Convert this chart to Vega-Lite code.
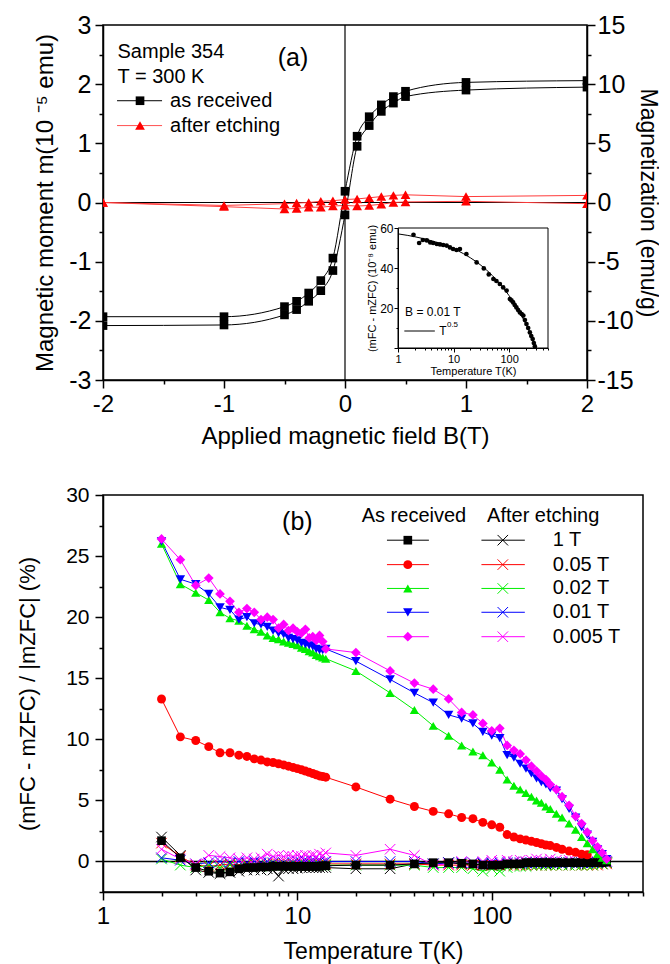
{
"$schema":"https://vega.github.io/schema/vega-lite/v6.json",
"padding":{"left":15,"top":12,"right":0,"bottom":0},
"spacing":34,
"config":{"font":"Liberation Sans","view":{"stroke":"black","strokeWidth":1.5},
 "axis":{"grid":false,"domainColor":"black","domainWidth":1.5,"tickColor":"black","tickWidth":1.5,"labelColor":"black","titleColor":"black","titleFontWeight":"normal","labelFont":"Liberation Sans","titleFont":"Liberation Sans","labelOverlap":false,"labelFlush":false}},
"datasets":{
"loop":[
{"g":"k","br":"d","B":2,"m":2.06},{"g":"k","br":"d","B":1,"m":2.03},{"g":"k","br":"d","B":0.5,"m":1.88},{"g":"k","br":"d","B":0.4,"m":1.79},{"g":"k","br":"d","B":0.3,"m":1.65},{"g":"k","br":"d","B":0.2,"m":1.45},{"g":"k","br":"d","B":0.1,"m":1.12},{"g":"k","br":"d","B":0,"m":0.19},{"g":"k","br":"d","B":-0.1,"m":-0.94},{"g":"k","br":"d","B":-0.2,"m":-1.32},{"g":"k","br":"d","B":-0.3,"m":-1.53},{"g":"k","br":"d","B":-0.4,"m":-1.67},{"g":"k","br":"d","B":-0.5,"m":-1.76},{"g":"k","br":"d","B":-1,"m":-1.93},{"g":"k","br":"d","B":-2,"m":-1.93},
{"g":"k","br":"u","B":-2,"m":-2.08},{"g":"k","br":"u","B":-1,"m":-2.07},{"g":"k","br":"u","B":-0.5,"m":-1.9},{"g":"k","br":"u","B":-0.4,"m":-1.81},{"g":"k","br":"u","B":-0.3,"m":-1.67},{"g":"k","br":"u","B":-0.2,"m":-1.49},{"g":"k","br":"u","B":-0.1,"m":-1.15},{"g":"k","br":"u","B":0,"m":-0.21},{"g":"k","br":"u","B":0.1,"m":0.95},{"g":"k","br":"u","B":0.2,"m":1.3},{"g":"k","br":"u","B":0.3,"m":1.54},{"g":"k","br":"u","B":0.4,"m":1.68},{"g":"k","br":"u","B":0.5,"m":1.79},{"g":"k","br":"u","B":1,"m":1.9},{"g":"k","br":"u","B":2,"m":1.95},
{"g":"r","br":"d","B":-2,"m":0.0},{"g":"r","br":"d","B":-1,"m":-0.05},{"g":"r","br":"d","B":-0.5,"m":-0.02},{"g":"r","br":"d","B":-0.4,"m":-0.01},{"g":"r","br":"d","B":-0.3,"m":0.0},{"g":"r","br":"d","B":-0.2,"m":0.02},{"g":"r","br":"d","B":-0.1,"m":0.03},{"g":"r","br":"d","B":0,"m":0.05},{"g":"r","br":"d","B":0.1,"m":0.06},{"g":"r","br":"d","B":0.2,"m":0.08},{"g":"r","br":"d","B":0.3,"m":0.1},{"g":"r","br":"d","B":0.4,"m":0.12},{"g":"r","br":"d","B":0.5,"m":0.13},{"g":"r","br":"d","B":1,"m":0.1},{"g":"r","br":"d","B":2,"m":0.12},
{"g":"r","br":"u","B":-2,"m":0.0},{"g":"r","br":"u","B":-1,"m":-0.07},{"g":"r","br":"u","B":-0.5,"m":-0.11},{"g":"r","br":"u","B":-0.4,"m":-0.1},{"g":"r","br":"u","B":-0.3,"m":-0.08},{"g":"r","br":"u","B":-0.2,"m":-0.08},{"g":"r","br":"u","B":-0.1,"m":-0.06},{"g":"r","br":"u","B":0,"m":-0.05},{"g":"r","br":"u","B":0.1,"m":-0.06},{"g":"r","br":"u","B":0.2,"m":-0.05},{"g":"r","br":"u","B":0.3,"m":-0.03},{"g":"r","br":"u","B":0.4,"m":0.0},{"g":"r","br":"u","B":0.5,"m":0.01},{"g":"r","br":"u","B":1,"m":0.02},{"g":"r","br":"u","B":2,"m":-0.02}
],
"inset":[
{"T":1.9,"v":56.6},{"T":2.4,"v":52.5},{"T":2.8,"v":54},{"T":3.3,"v":53.8},{"T":3.8,"v":52.8},{"T":4.3,"v":52.5},{"T":5,"v":52},{"T":5.7,"v":51.8},{"T":6.5,"v":51.5},{"T":7.5,"v":51.2},{"T":8.6,"v":50.3},{"T":9.8,"v":49.5},{"T":11.3,"v":49},{"T":13,"v":49.5},{"T":17,"v":47},{"T":26,"v":42.8},{"T":35,"v":39.8},{"T":43,"v":36.8},{"T":52,"v":34.5},{"T":59,"v":33.5},{"T":68,"v":32},{"T":78,"v":30.3},{"T":90,"v":28.7},{"T":103,"v":24.5},{"T":110,"v":23.8},{"T":118,"v":22.8},{"T":126,"v":21.5},{"T":135,"v":20.3},{"T":145,"v":19},{"T":156,"v":17.8},{"T":168,"v":17},{"T":180,"v":16.2},{"T":192,"v":14},{"T":205,"v":12},{"T":220,"v":10},{"T":236,"v":7.8},{"T":250,"v":6},{"T":265,"v":4.5},{"T":278,"v":2.5},{"T":290,"v":0.8}
],
"fit":[
{"T":1,"v":57.06},{"T":1.5,"v":56.29},{"T":2,"v":55.64},{"T":3,"v":54.55},{"T":5,"v":52.82},{"T":7,"v":51.41},{"T":10,"v":49.63},{"T":15,"v":47.19},{"T":20,"v":45.13},{"T":30,"v":41.68},{"T":50,"v":36.2},{"T":70,"v":31.75},{"T":100,"v":26.14},{"T":130,"v":21.32},{"T":160,"v":17.04},{"T":200,"v":11.91},{"T":240,"v":7.27},{"T":280,"v":3.0},{"T":310,"v":0}
],
"ar":[
{"s":"1 T","T":2,"v":1.7},{"s":"1 T","T":2.5,"v":0.3},{"s":"1 T","T":3,"v":-0.5},{"s":"1 T","T":3.5,"v":-0.8},{"s":"1 T","T":4,"v":-0.95},{"s":"1 T","T":4.5,"v":-0.85},{"s":"1 T","T":5,"v":-0.6},{"s":"1 T","T":5.5,"v":-0.5},{"s":"1 T","T":6,"v":-0.5},{"s":"1 T","T":6.5,"v":-0.45},{"s":"1 T","T":7,"v":-0.45},{"s":"1 T","T":7.5,"v":-0.4},{"s":"1 T","T":8,"v":-0.4},{"s":"1 T","T":8.5,"v":-0.4},{"s":"1 T","T":9,"v":-0.4},{"s":"1 T","T":9.5,"v":-0.4},{"s":"1 T","T":10,"v":-0.4},{"s":"1 T","T":10.5,"v":-0.4},{"s":"1 T","T":11,"v":-0.4},{"s":"1 T","T":11.5,"v":-0.4},{"s":"1 T","T":12,"v":-0.4},{"s":"1 T","T":12.5,"v":-0.4},{"s":"1 T","T":13,"v":-0.4},{"s":"1 T","T":13.5,"v":-0.35},{"s":"1 T","T":14,"v":-0.35},{"s":"1 T","T":20,"v":-0.3},{"s":"1 T","T":30,"v":-0.3},{"s":"1 T","T":40,"v":-0.2},{"s":"1 T","T":50,"v":-0.1},{"s":"1 T","T":60,"v":-0.1},{"s":"1 T","T":70,"v":-0.15},{"s":"1 T","T":80,"v":-0.2},{"s":"1 T","T":90,"v":-0.3},{"s":"1 T","T":100,"v":-0.3},{"s":"1 T","T":110,"v":-0.3},{"s":"1 T","T":120,"v":-0.2},{"s":"1 T","T":130,"v":-0.2},{"s":"1 T","T":140,"v":-0.2},{"s":"1 T","T":150,"v":-0.1},{"s":"1 T","T":160,"v":-0.1},{"s":"1 T","T":170,"v":-0.1},{"s":"1 T","T":180,"v":-0.1},{"s":"1 T","T":190,"v":-0.1},{"s":"1 T","T":200,"v":-0.1},{"s":"1 T","T":215,"v":-0.1},{"s":"1 T","T":230,"v":-0.1},{"s":"1 T","T":250,"v":-0.1},{"s":"1 T","T":270,"v":-0.1},{"s":"1 T","T":290,"v":-0.1},{"s":"1 T","T":310,"v":-0.1},{"s":"1 T","T":330,"v":-0.1},{"s":"1 T","T":350,"v":-0.1},{"s":"1 T","T":370,"v":-0.1},{"s":"1 T","T":390,"v":-0.05},
{"s":"0.05 T","T":2,"v":13.3},{"s":"0.05 T","T":2.5,"v":10.2},{"s":"0.05 T","T":3,"v":9.9},{"s":"0.05 T","T":3.5,"v":9.4},{"s":"0.05 T","T":4,"v":8.9},{"s":"0.05 T","T":4.5,"v":8.9},{"s":"0.05 T","T":5,"v":8.7},{"s":"0.05 T","T":5.5,"v":8.6},{"s":"0.05 T","T":6,"v":8.4},{"s":"0.05 T","T":6.5,"v":8.3},{"s":"0.05 T","T":7,"v":8.15},{"s":"0.05 T","T":7.5,"v":8.1},{"s":"0.05 T","T":8,"v":8.0},{"s":"0.05 T","T":8.5,"v":7.9},{"s":"0.05 T","T":9,"v":7.8},{"s":"0.05 T","T":9.5,"v":7.7},{"s":"0.05 T","T":10,"v":7.6},{"s":"0.05 T","T":10.5,"v":7.5},{"s":"0.05 T","T":11,"v":7.4},{"s":"0.05 T","T":11.5,"v":7.3},{"s":"0.05 T","T":12,"v":7.2},{"s":"0.05 T","T":12.5,"v":7.1},{"s":"0.05 T","T":13,"v":7.0},{"s":"0.05 T","T":13.5,"v":6.95},{"s":"0.05 T","T":14,"v":6.9},{"s":"0.05 T","T":20,"v":6.1},{"s":"0.05 T","T":30,"v":5.1},{"s":"0.05 T","T":40,"v":4.5},{"s":"0.05 T","T":50,"v":4.1},{"s":"0.05 T","T":60,"v":3.9},{"s":"0.05 T","T":70,"v":3.6},{"s":"0.05 T","T":80,"v":3.5},{"s":"0.05 T","T":90,"v":3.2},{"s":"0.05 T","T":100,"v":3.0},{"s":"0.05 T","T":110,"v":2.8},{"s":"0.05 T","T":120,"v":2.2},{"s":"0.05 T","T":130,"v":2.0},{"s":"0.05 T","T":140,"v":1.85},{"s":"0.05 T","T":150,"v":1.75},{"s":"0.05 T","T":160,"v":1.65},{"s":"0.05 T","T":170,"v":1.55},{"s":"0.05 T","T":180,"v":1.45},{"s":"0.05 T","T":190,"v":1.35},{"s":"0.05 T","T":200,"v":1.3},{"s":"0.05 T","T":215,"v":1.15},{"s":"0.05 T","T":230,"v":1.0},{"s":"0.05 T","T":250,"v":0.85},{"s":"0.05 T","T":270,"v":0.75},{"s":"0.05 T","T":290,"v":0.6},{"s":"0.05 T","T":310,"v":0.55},
{"s":"0.02 T","T":2,"v":26.0},{"s":"0.02 T","T":2.5,"v":22.7},{"s":"0.02 T","T":3,"v":22.0},{"s":"0.02 T","T":3.5,"v":21.4},{"s":"0.02 T","T":4,"v":20.4},{"s":"0.02 T","T":4.5,"v":19.9},{"s":"0.02 T","T":5,"v":19.7},{"s":"0.02 T","T":5.5,"v":19.3},{"s":"0.02 T","T":6,"v":19.0},{"s":"0.02 T","T":6.5,"v":18.8},{"s":"0.02 T","T":7,"v":18.5},{"s":"0.02 T","T":7.5,"v":18.3},{"s":"0.02 T","T":8,"v":18.2},{"s":"0.02 T","T":8.5,"v":18.0},{"s":"0.02 T","T":9,"v":17.9},{"s":"0.02 T","T":9.5,"v":17.8},{"s":"0.02 T","T":10,"v":17.7},{"s":"0.02 T","T":10.5,"v":17.5},{"s":"0.02 T","T":11,"v":17.4},{"s":"0.02 T","T":11.5,"v":17.2},{"s":"0.02 T","T":12,"v":17.1},{"s":"0.02 T","T":12.5,"v":16.9},{"s":"0.02 T","T":13,"v":16.8},{"s":"0.02 T","T":13.5,"v":16.7},{"s":"0.02 T","T":14,"v":16.6},{"s":"0.02 T","T":20,"v":15.6},{"s":"0.02 T","T":30,"v":13.8},{"s":"0.02 T","T":40,"v":12.4},{"s":"0.02 T","T":50,"v":11.1},{"s":"0.02 T","T":60,"v":10.3},{"s":"0.02 T","T":70,"v":9.5},{"s":"0.02 T","T":80,"v":9.0},{"s":"0.02 T","T":90,"v":8.7},{"s":"0.02 T","T":100,"v":8.1},{"s":"0.02 T","T":110,"v":7.5},{"s":"0.02 T","T":120,"v":6.7},{"s":"0.02 T","T":130,"v":6.2},{"s":"0.02 T","T":140,"v":5.9},{"s":"0.02 T","T":150,"v":5.6},{"s":"0.02 T","T":160,"v":5.3},{"s":"0.02 T","T":170,"v":5.0},{"s":"0.02 T","T":180,"v":4.8},{"s":"0.02 T","T":190,"v":4.5},{"s":"0.02 T","T":200,"v":4.3},{"s":"0.02 T","T":215,"v":3.9},{"s":"0.02 T","T":230,"v":3.6},{"s":"0.02 T","T":250,"v":3.1},{"s":"0.02 T","T":270,"v":2.6},{"s":"0.02 T","T":290,"v":2.0},{"s":"0.02 T","T":310,"v":1.5},{"s":"0.02 T","T":330,"v":1.0},{"s":"0.02 T","T":350,"v":0.6},{"s":"0.02 T","T":370,"v":0.3},{"s":"0.02 T","T":390,"v":0.1},
{"s":"0.01 T","T":2,"v":26.2},{"s":"0.01 T","T":2.5,"v":23.1},{"s":"0.01 T","T":3,"v":22.7},{"s":"0.01 T","T":3.5,"v":21.9},{"s":"0.01 T","T":4,"v":20.8},{"s":"0.01 T","T":4.5,"v":20.6},{"s":"0.01 T","T":5,"v":19.8},{"s":"0.01 T","T":5.5,"v":20.0},{"s":"0.01 T","T":6,"v":19.5},{"s":"0.01 T","T":6.5,"v":19.4},{"s":"0.01 T","T":7,"v":19.2},{"s":"0.01 T","T":7.5,"v":18.9},{"s":"0.01 T","T":8,"v":18.7},{"s":"0.01 T","T":8.5,"v":18.6},{"s":"0.01 T","T":9,"v":18.3},{"s":"0.01 T","T":9.5,"v":18.2},{"s":"0.01 T","T":10,"v":18.1},{"s":"0.01 T","T":10.5,"v":17.9},{"s":"0.01 T","T":11,"v":17.8},{"s":"0.01 T","T":11.5,"v":17.7},{"s":"0.01 T","T":12,"v":17.6},{"s":"0.01 T","T":12.5,"v":17.4},{"s":"0.01 T","T":13,"v":17.3},{"s":"0.01 T","T":13.5,"v":17.3},{"s":"0.01 T","T":14,"v":17.4},{"s":"0.01 T","T":20,"v":16.4},{"s":"0.01 T","T":30,"v":14.9},{"s":"0.01 T","T":40,"v":13.8},{"s":"0.01 T","T":50,"v":13.0},{"s":"0.01 T","T":60,"v":12.0},{"s":"0.01 T","T":70,"v":11.7},{"s":"0.01 T","T":80,"v":11.3},{"s":"0.01 T","T":90,"v":10.6},{"s":"0.01 T","T":100,"v":10.3},{"s":"0.01 T","T":110,"v":10.1},{"s":"0.01 T","T":120,"v":8.7},{"s":"0.01 T","T":130,"v":8.5},{"s":"0.01 T","T":140,"v":8.0},{"s":"0.01 T","T":150,"v":7.6},{"s":"0.01 T","T":160,"v":7.2},{"s":"0.01 T","T":170,"v":6.8},{"s":"0.01 T","T":180,"v":6.5},{"s":"0.01 T","T":190,"v":6.3},{"s":"0.01 T","T":200,"v":6.0},{"s":"0.01 T","T":215,"v":5.8},{"s":"0.01 T","T":230,"v":5.1},{"s":"0.01 T","T":250,"v":4.3},{"s":"0.01 T","T":270,"v":3.6},{"s":"0.01 T","T":290,"v":2.8},{"s":"0.01 T","T":310,"v":2.2},{"s":"0.01 T","T":330,"v":1.6},{"s":"0.01 T","T":350,"v":1.0},{"s":"0.01 T","T":370,"v":0.6},{"s":"0.01 T","T":390,"v":0.2},
{"s":"0.005 T","T":2,"v":26.4},{"s":"0.005 T","T":2.5,"v":24.7},{"s":"0.005 T","T":3,"v":22.6},{"s":"0.005 T","T":3.5,"v":23.2},{"s":"0.005 T","T":4,"v":21.9},{"s":"0.005 T","T":4.5,"v":21.3},{"s":"0.005 T","T":5,"v":20.4},{"s":"0.005 T","T":5.5,"v":20.7},{"s":"0.005 T","T":6,"v":20.4},{"s":"0.005 T","T":6.5,"v":19.8},{"s":"0.005 T","T":7,"v":20.0},{"s":"0.005 T","T":7.5,"v":19.8},{"s":"0.005 T","T":8,"v":19.1},{"s":"0.005 T","T":8.5,"v":19.4},{"s":"0.005 T","T":9,"v":18.9},{"s":"0.005 T","T":9.5,"v":19.1},{"s":"0.005 T","T":10,"v":18.8},{"s":"0.005 T","T":10.5,"v":18.7},{"s":"0.005 T","T":11,"v":19.0},{"s":"0.005 T","T":11.5,"v":18.3},{"s":"0.005 T","T":12,"v":18.4},{"s":"0.005 T","T":12.5,"v":18.1},{"s":"0.005 T","T":13,"v":18.5},{"s":"0.005 T","T":13.5,"v":18.0},{"s":"0.005 T","T":14,"v":17.4},{"s":"0.005 T","T":20,"v":17.1},{"s":"0.005 T","T":30,"v":15.6},{"s":"0.005 T","T":40,"v":14.6},{"s":"0.005 T","T":50,"v":14.1},{"s":"0.005 T","T":60,"v":13.3},{"s":"0.005 T","T":70,"v":12.2},{"s":"0.005 T","T":80,"v":12.0},{"s":"0.005 T","T":90,"v":11.3},{"s":"0.005 T","T":100,"v":10.7},{"s":"0.005 T","T":110,"v":10.9},{"s":"0.005 T","T":120,"v":9.5},{"s":"0.005 T","T":130,"v":9.1},{"s":"0.005 T","T":140,"v":8.8},{"s":"0.005 T","T":150,"v":8.3},{"s":"0.005 T","T":160,"v":7.8},{"s":"0.005 T","T":170,"v":7.4},{"s":"0.005 T","T":180,"v":7.0},{"s":"0.005 T","T":190,"v":6.7},{"s":"0.005 T","T":200,"v":6.3},{"s":"0.005 T","T":215,"v":5.9},{"s":"0.005 T","T":230,"v":5.3},{"s":"0.005 T","T":250,"v":4.6},{"s":"0.005 T","T":270,"v":3.7},{"s":"0.005 T","T":290,"v":3.1},{"s":"0.005 T","T":310,"v":2.4},{"s":"0.005 T","T":330,"v":1.7},{"s":"0.005 T","T":350,"v":1.2},{"s":"0.005 T","T":370,"v":0.7},{"s":"0.005 T","T":390,"v":0.2}
],
"ae":[
{"s":"1 T","T":2,"v":2.0},{"s":"1 T","T":2.5,"v":0.5},{"s":"1 T","T":3,"v":-0.7},{"s":"1 T","T":3.5,"v":-0.9},{"s":"1 T","T":4,"v":-1.0},{"s":"1 T","T":4.5,"v":-0.9},{"s":"1 T","T":5,"v":-0.8},{"s":"1 T","T":5.5,"v":-0.7},{"s":"1 T","T":6,"v":-0.7},{"s":"1 T","T":6.5,"v":-0.7},{"s":"1 T","T":7,"v":-0.6},{"s":"1 T","T":7.5,"v":-0.7},{"s":"1 T","T":8,"v":-1.2},{"s":"1 T","T":8.5,"v":-0.6},{"s":"1 T","T":9,"v":-0.6},{"s":"1 T","T":9.5,"v":-0.6},{"s":"1 T","T":10,"v":-0.55},{"s":"1 T","T":10.5,"v":-0.5},{"s":"1 T","T":11,"v":-0.5},{"s":"1 T","T":11.5,"v":-0.5},{"s":"1 T","T":12,"v":-0.5},{"s":"1 T","T":12.5,"v":-0.5},{"s":"1 T","T":13,"v":-0.5},{"s":"1 T","T":13.5,"v":-0.5},{"s":"1 T","T":14,"v":-0.5},{"s":"1 T","T":20,"v":-0.6},{"s":"1 T","T":30,"v":-0.6},{"s":"1 T","T":40,"v":-0.2},{"s":"1 T","T":50,"v":-0.2},{"s":"1 T","T":60,"v":-0.1},{"s":"1 T","T":70,"v":-0.2},{"s":"1 T","T":80,"v":-0.3},{"s":"1 T","T":90,"v":-0.2},{"s":"1 T","T":100,"v":-0.3},{"s":"1 T","T":110,"v":-0.3},{"s":"1 T","T":120,"v":-0.2},{"s":"1 T","T":130,"v":-0.1},{"s":"1 T","T":140,"v":-0.2},{"s":"1 T","T":150,"v":-0.1},{"s":"1 T","T":160,"v":-0.2},{"s":"1 T","T":170,"v":-0.1},{"s":"1 T","T":180,"v":-0.1},{"s":"1 T","T":190,"v":-0.2},{"s":"1 T","T":200,"v":-0.1},{"s":"1 T","T":215,"v":-0.1},{"s":"1 T","T":230,"v":-0.2},{"s":"1 T","T":250,"v":-0.1},{"s":"1 T","T":270,"v":-0.2},{"s":"1 T","T":290,"v":-0.1},{"s":"1 T","T":310,"v":-0.2},{"s":"1 T","T":330,"v":-0.1},{"s":"1 T","T":350,"v":-0.1},{"s":"1 T","T":370,"v":-0.2},{"s":"1 T","T":390,"v":-0.1},
{"s":"0.05 T","T":2,"v":1.5},{"s":"0.05 T","T":2.5,"v":0.4},{"s":"0.05 T","T":3,"v":-0.3},{"s":"0.05 T","T":3.5,"v":-0.4},{"s":"0.05 T","T":4,"v":-0.3},{"s":"0.05 T","T":4.5,"v":-0.2},{"s":"0.05 T","T":5,"v":-0.3},{"s":"0.05 T","T":5.5,"v":-0.2},{"s":"0.05 T","T":6,"v":-0.2},{"s":"0.05 T","T":6.5,"v":-0.2},{"s":"0.05 T","T":7,"v":-0.2},{"s":"0.05 T","T":7.5,"v":-0.2},{"s":"0.05 T","T":8,"v":-0.2},{"s":"0.05 T","T":8.5,"v":-0.2},{"s":"0.05 T","T":9,"v":-0.2},{"s":"0.05 T","T":9.5,"v":-0.2},{"s":"0.05 T","T":10,"v":-0.2},{"s":"0.05 T","T":10.5,"v":-0.2},{"s":"0.05 T","T":11,"v":-0.2},{"s":"0.05 T","T":11.5,"v":-0.2},{"s":"0.05 T","T":12,"v":-0.2},{"s":"0.05 T","T":12.5,"v":-0.2},{"s":"0.05 T","T":13,"v":-0.2},{"s":"0.05 T","T":13.5,"v":-0.2},{"s":"0.05 T","T":14,"v":-0.2},{"s":"0.05 T","T":20,"v":-0.2},{"s":"0.05 T","T":30,"v":-0.2},{"s":"0.05 T","T":40,"v":-0.2},{"s":"0.05 T","T":50,"v":-0.3},{"s":"0.05 T","T":60,"v":-0.3},{"s":"0.05 T","T":70,"v":-0.3},{"s":"0.05 T","T":80,"v":-0.3},{"s":"0.05 T","T":90,"v":-0.3},{"s":"0.05 T","T":100,"v":-0.3},{"s":"0.05 T","T":110,"v":-0.3},{"s":"0.05 T","T":120,"v":-0.3},{"s":"0.05 T","T":130,"v":-0.3},{"s":"0.05 T","T":140,"v":-0.3},{"s":"0.05 T","T":150,"v":-0.3},{"s":"0.05 T","T":160,"v":-0.3},{"s":"0.05 T","T":170,"v":-0.3},{"s":"0.05 T","T":180,"v":-0.3},{"s":"0.05 T","T":190,"v":-0.3},{"s":"0.05 T","T":200,"v":-0.3},{"s":"0.05 T","T":215,"v":-0.3},{"s":"0.05 T","T":230,"v":-0.3},{"s":"0.05 T","T":250,"v":-0.3},{"s":"0.05 T","T":270,"v":-0.3},{"s":"0.05 T","T":290,"v":-0.3},{"s":"0.05 T","T":310,"v":-0.3},{"s":"0.05 T","T":330,"v":-0.3},{"s":"0.05 T","T":350,"v":-0.3},{"s":"0.05 T","T":370,"v":-0.2},{"s":"0.05 T","T":390,"v":-0.2},
{"s":"0.02 T","T":2,"v":0.2},{"s":"0.02 T","T":2.5,"v":-0.3},{"s":"0.02 T","T":3,"v":-0.5},{"s":"0.02 T","T":3.5,"v":-0.3},{"s":"0.02 T","T":4,"v":-0.5},{"s":"0.02 T","T":4.5,"v":-0.3},{"s":"0.02 T","T":5,"v":-0.4},{"s":"0.02 T","T":5.5,"v":-0.3},{"s":"0.02 T","T":6,"v":-0.3},{"s":"0.02 T","T":6.5,"v":-0.4},{"s":"0.02 T","T":7,"v":-0.3},{"s":"0.02 T","T":7.5,"v":-0.3},{"s":"0.02 T","T":8,"v":-0.3},{"s":"0.02 T","T":8.5,"v":-0.3},{"s":"0.02 T","T":9,"v":-0.3},{"s":"0.02 T","T":9.5,"v":-0.3},{"s":"0.02 T","T":10,"v":-0.3},{"s":"0.02 T","T":10.5,"v":-0.3},{"s":"0.02 T","T":11,"v":-0.3},{"s":"0.02 T","T":11.5,"v":-0.3},{"s":"0.02 T","T":12,"v":-0.3},{"s":"0.02 T","T":12.5,"v":-0.3},{"s":"0.02 T","T":13,"v":-0.3},{"s":"0.02 T","T":13.5,"v":-0.3},{"s":"0.02 T","T":14,"v":-0.3},{"s":"0.02 T","T":20,"v":-0.3},{"s":"0.02 T","T":30,"v":-0.3},{"s":"0.02 T","T":40,"v":-0.3},{"s":"0.02 T","T":50,"v":-0.5},{"s":"0.02 T","T":60,"v":-0.5},{"s":"0.02 T","T":70,"v":-0.5},{"s":"0.02 T","T":80,"v":-0.6},{"s":"0.02 T","T":90,"v":-0.8},{"s":"0.02 T","T":100,"v":-0.6},{"s":"0.02 T","T":110,"v":-0.8},{"s":"0.02 T","T":120,"v":-0.5},{"s":"0.02 T","T":130,"v":-0.4},{"s":"0.02 T","T":140,"v":-0.4},{"s":"0.02 T","T":150,"v":-0.4},{"s":"0.02 T","T":160,"v":-0.3},{"s":"0.02 T","T":170,"v":-0.3},{"s":"0.02 T","T":180,"v":-0.3},{"s":"0.02 T","T":190,"v":-0.3},{"s":"0.02 T","T":200,"v":-0.3},{"s":"0.02 T","T":215,"v":-0.3},{"s":"0.02 T","T":230,"v":-0.3},{"s":"0.02 T","T":250,"v":-0.3},{"s":"0.02 T","T":270,"v":-0.3},{"s":"0.02 T","T":290,"v":-0.3},{"s":"0.02 T","T":310,"v":-0.3},{"s":"0.02 T","T":330,"v":-0.3},{"s":"0.02 T","T":350,"v":-0.2},{"s":"0.02 T","T":370,"v":-0.2},{"s":"0.02 T","T":390,"v":-0.1},
{"s":"0.01 T","T":2,"v":0.3},{"s":"0.01 T","T":2.5,"v":0.1},{"s":"0.01 T","T":3,"v":-0.2},{"s":"0.01 T","T":3.5,"v":-0.1},{"s":"0.01 T","T":4,"v":0.0},{"s":"0.01 T","T":4.5,"v":-0.1},{"s":"0.01 T","T":5,"v":0.0},{"s":"0.01 T","T":5.5,"v":-0.1},{"s":"0.01 T","T":6,"v":0.0},{"s":"0.01 T","T":6.5,"v":-0.1},{"s":"0.01 T","T":7,"v":0.0},{"s":"0.01 T","T":7.5,"v":-0.1},{"s":"0.01 T","T":8,"v":0.0},{"s":"0.01 T","T":8.5,"v":-0.1},{"s":"0.01 T","T":9,"v":0.0},{"s":"0.01 T","T":9.5,"v":-0.1},{"s":"0.01 T","T":10,"v":0.0},{"s":"0.01 T","T":10.5,"v":-0.1},{"s":"0.01 T","T":11,"v":0.0},{"s":"0.01 T","T":11.5,"v":-0.1},{"s":"0.01 T","T":12,"v":0.0},{"s":"0.01 T","T":12.5,"v":-0.1},{"s":"0.01 T","T":13,"v":0.0},{"s":"0.01 T","T":13.5,"v":-0.1},{"s":"0.01 T","T":14,"v":0.0},{"s":"0.01 T","T":20,"v":0.0},{"s":"0.01 T","T":30,"v":0.0},{"s":"0.01 T","T":40,"v":0.0},{"s":"0.01 T","T":50,"v":-0.2},{"s":"0.01 T","T":60,"v":-0.1},{"s":"0.01 T","T":70,"v":-0.1},{"s":"0.01 T","T":80,"v":-0.1},{"s":"0.01 T","T":90,"v":-0.1},{"s":"0.01 T","T":100,"v":-0.1},{"s":"0.01 T","T":110,"v":-0.1},{"s":"0.01 T","T":120,"v":-0.1},{"s":"0.01 T","T":130,"v":-0.1},{"s":"0.01 T","T":140,"v":-0.1},{"s":"0.01 T","T":150,"v":-0.1},{"s":"0.01 T","T":160,"v":-0.1},{"s":"0.01 T","T":170,"v":-0.1},{"s":"0.01 T","T":180,"v":-0.1},{"s":"0.01 T","T":190,"v":-0.1},{"s":"0.01 T","T":200,"v":-0.1},{"s":"0.01 T","T":215,"v":-0.1},{"s":"0.01 T","T":230,"v":-0.1},{"s":"0.01 T","T":250,"v":-0.1},{"s":"0.01 T","T":270,"v":-0.1},{"s":"0.01 T","T":290,"v":-0.1},{"s":"0.01 T","T":310,"v":-0.1},{"s":"0.01 T","T":330,"v":-0.1},{"s":"0.01 T","T":350,"v":-0.1},{"s":"0.01 T","T":370,"v":0.0},{"s":"0.01 T","T":390,"v":0.0},
{"s":"0.005 T","T":2,"v":1.0},{"s":"0.005 T","T":2.5,"v":0.2},{"s":"0.005 T","T":3,"v":-0.2},{"s":"0.005 T","T":3.5,"v":0.5},{"s":"0.005 T","T":4,"v":0.4},{"s":"0.005 T","T":4.5,"v":0.3},{"s":"0.005 T","T":5,"v":0.2},{"s":"0.005 T","T":5.5,"v":0.3},{"s":"0.005 T","T":6,"v":0.2},{"s":"0.005 T","T":6.5,"v":0.3},{"s":"0.005 T","T":7,"v":0.6},{"s":"0.005 T","T":7.5,"v":0.4},{"s":"0.005 T","T":8,"v":0.5},{"s":"0.005 T","T":8.5,"v":0.4},{"s":"0.005 T","T":9,"v":0.5},{"s":"0.005 T","T":9.5,"v":0.4},{"s":"0.005 T","T":10,"v":0.5},{"s":"0.005 T","T":10.5,"v":0.4},{"s":"0.005 T","T":11,"v":0.5},{"s":"0.005 T","T":11.5,"v":0.4},{"s":"0.005 T","T":12,"v":0.5},{"s":"0.005 T","T":12.5,"v":0.4},{"s":"0.005 T","T":13,"v":0.6},{"s":"0.005 T","T":13.5,"v":0.5},{"s":"0.005 T","T":14,"v":0.7},{"s":"0.005 T","T":20,"v":0.5},{"s":"0.005 T","T":30,"v":1.0},{"s":"0.005 T","T":40,"v":0.5},{"s":"0.005 T","T":50,"v":-0.3},{"s":"0.005 T","T":60,"v":-0.2},{"s":"0.005 T","T":70,"v":0.0},{"s":"0.005 T","T":80,"v":-0.1},{"s":"0.005 T","T":90,"v":0.0},{"s":"0.005 T","T":100,"v":0.1},{"s":"0.005 T","T":110,"v":0.0},{"s":"0.005 T","T":120,"v":0.1},{"s":"0.005 T","T":130,"v":0.0},{"s":"0.005 T","T":140,"v":0.1},{"s":"0.005 T","T":150,"v":0.0},{"s":"0.005 T","T":160,"v":0.1},{"s":"0.005 T","T":170,"v":0.2},{"s":"0.005 T","T":180,"v":0.1},{"s":"0.005 T","T":190,"v":0.0},{"s":"0.005 T","T":200,"v":0.2},{"s":"0.005 T","T":215,"v":0.1},{"s":"0.005 T","T":230,"v":0.0},{"s":"0.005 T","T":250,"v":0.1},{"s":"0.005 T","T":270,"v":0.0},{"s":"0.005 T","T":290,"v":0.1},{"s":"0.005 T","T":310,"v":0.0},{"s":"0.005 T","T":330,"v":0.1},{"s":"0.005 T","T":350,"v":0.0},{"s":"0.005 T","T":370,"v":0.1},{"s":"0.005 T","T":390,"v":0.0}
]
},
"vconcat":[
{
"width":484,"height":355,
"resolve":{"scale":{"x":"independent","y":"independent"},"axis":{"x":"independent","y":"independent"}},
"layer":[
{
"encoding":{
 "x":{"field":"B","type":"quantitative","scale":{"domain":[-2,2],"nice":false,"zero":false},
  "axis":{"orient":"bottom","values":[-2,-1.5,-1,-0.5,0,0.5,1,1.5,2],"labelExpr":"datum.value % 1 == 0 ? datum.value + '' : ''","tickSize":{"condition":{"test":"datum.value % 1 == 0","value":8},"value":4},"labelFontSize":24,"labelPadding":4,"title":"Applied magnetic field B(T)","titleFontSize":24,"titlePadding":8}},
 "y":{"field":"m","type":"quantitative","scale":{"domain":[-3,3],"nice":false,"zero":false},
  "axis":{"orient":"left","values":[-3,-2.5,-2,-1.5,-1,-0.5,0,0.5,1,1.5,2,2.5,3],"labelExpr":"datum.value % 1 == 0 ? datum.value + '' : ''","tickSize":{"condition":{"test":"datum.value % 1 == 0","value":8},"value":4},"labelFontSize":25,"labelPadding":4,"title":"Magnetic moment m(10 ⁻⁵ emu)","titleFontSize":24,"titlePadding":11}}
},
"layer":[
 {"data":{"values":[{"B":-2,"m":0},{"B":2,"m":0}]},"mark":{"type":"line","color":"black","strokeWidth":1.2}},
 {"data":{"values":[{"B":0,"m":-3},{"B":0,"m":3}]},"mark":{"type":"line","color":"black","strokeWidth":1.2}},
 {"data":{"name":"loop"},"transform":[{"filter":"datum.g == 'r'"}],"mark":{"type":"line","color":"#ff3b3b","strokeWidth":1},"encoding":{"detail":{"field":"br"}}},
 {"data":{"name":"loop"},"transform":[{"filter":"datum.g == 'k'"}],"mark":{"type":"line","color":"black","strokeWidth":1,"interpolate":"monotone"},"encoding":{"detail":{"field":"br"}}},
 {"data":{"name":"loop"},"transform":[{"filter":"datum.g == 'r'"}],"mark":{"type":"point","shape":"triangle-up","filled":true,"color":"#ff0000","size":95,"opacity":1,"clip":true}},
 {"data":{"name":"loop"},"transform":[{"filter":"datum.g == 'k'"}],"mark":{"type":"point","shape":"square","filled":true,"color":"black","size":75,"opacity":1,"clip":true}},
 {"data":{"values":[{"B":-1.88,"m":2.55,"t":"Sample 354"},{"B":-1.88,"m":2.12,"t":"T = 300 K"},{"B":-1.446,"m":1.72,"t":"as received"},{"B":-1.446,"m":1.3,"t":"after etching"}]},"mark":{"type":"text","align":"left","baseline":"middle","fontSize":20,"color":"black"},"encoding":{"text":{"field":"t"}}},
 {"data":{"values":[{"B":-0.43,"m":2.45,"t":"(a)"}]},"mark":{"type":"text","align":"center","baseline":"middle","fontSize":25,"color":"black"},"encoding":{"text":{"field":"t"}}},
 {"data":{"values":[{"B":-1.884,"B2":-1.512,"m":1.72}]},"mark":{"type":"rule","color":"black","strokeWidth":1},"encoding":{"x2":{"field":"B2"}}},
 {"data":{"values":[{"B":-1.884,"B2":-1.512,"m":1.3}]},"mark":{"type":"rule","color":"#ff5050","strokeWidth":1},"encoding":{"x2":{"field":"B2"}}},
 {"data":{"values":[{"B":-1.694,"m":1.72}]},"mark":{"type":"point","shape":"square","filled":true,"color":"black","size":75,"opacity":1}},
 {"data":{"values":[{"B":-1.694,"m":1.3}]},"mark":{"type":"point","shape":"triangle-up","filled":true,"color":"#ff0000","size":95,"opacity":1}}
]
},
{
"data":{"values":[{"M":-15},{"M":15}]},
"mark":{"type":"point","opacity":0},
"encoding":{"y":{"field":"M","type":"quantitative","scale":{"domain":[-15,15],"nice":false,"zero":false},
 "axis":{"orient":"right","values":[-15,-12.5,-10,-7.5,-5,-2.5,0,2.5,5,7.5,10,12.5,15],"labelExpr":"datum.value % 5 == 0 ? datum.value + '' : ''","tickSize":{"condition":{"test":"datum.value % 5 == 0","value":8},"value":4},"labelFontSize":25,"labelPadding":2,"title":"Magnetization (emu/g)","titleFontSize":23,"titlePadding":2}}}
},
{
"encoding":{
 "x":{"field":"T","type":"quantitative","scale":{"type":"log","domain":[1,500],"range":[295,445],"nice":false},
  "axis":{"orient":"bottom","offset":-32,"values":[1,2,3,4,5,6,7,8,9,10,20,30,40,50,60,70,80,90,100,200,300,400,500],"labelExpr":"datum.value == 1 || datum.value == 10 || datum.value == 100 ? datum.value + '' : ''","tickSize":{"condition":{"test":"datum.value == 1 || datum.value == 10 || datum.value == 100","value":4},"value":2},"tickWidth":1,"domainWidth":1,"labelFontSize":11,"labelPadding":1,"title":"Temperature T(K)","titleFontSize":11,"titlePadding":1}},
 "y":{"field":"v","type":"quantitative","scale":{"domain":[0,60],"range":[323,203],"nice":false,"zero":false},
  "axis":{"orient":"left","offset":-295,"values":[0,10,20,30,40,50,60],"labelExpr":"datum.value % 20 == 0 && datum.value > 0 ? datum.value + '' : ''","tickSize":{"condition":{"test":"datum.value % 20 == 0","value":4},"value":2},"tickWidth":1,"domainWidth":1,"labelFontSize":12,"labelPadding":1,"title":"(mFC - mZFC) (10⁻⁸ emu)","titleFontSize":11,"titlePadding":2}}
},
"layer":[
 {"data":{"values":[{"T":1,"T2":500,"v":0,"v2":60}]},"mark":{"type":"rect","fill":"white","fillOpacity":0,"stroke":"black","strokeWidth":1},"encoding":{"x2":{"field":"T2"},"y2":{"field":"v2"}}},
 {"data":{"name":"fit"},"mark":{"type":"line","color":"black","strokeWidth":1,"interpolate":"monotone"}},
 {"data":{"name":"inset"},"mark":{"type":"circle","color":"black","size":22,"opacity":1}},
 {"data":{"values":[{"T":1.34,"v":18,"t":"B = 0.01 T"},{"T":5.5,"v":8.5,"t":"T"}]},"mark":{"type":"text","align":"left","baseline":"middle","fontSize":12,"color":"black"},"encoding":{"text":{"field":"t"}}},
 {"data":{"values":[{"T":7.6,"v":11.5,"t":"0.5"}]},"mark":{"type":"text","align":"left","baseline":"middle","fontSize":8,"color":"black"},"encoding":{"text":{"field":"t"}}},
 {"data":{"values":[{"T":1.3,"T2":4.6,"v":8.5}]},"mark":{"type":"rule","color":"black","strokeWidth":1},"encoding":{"x2":{"field":"T2"}}}
]
}
]
},
{
"width":540,"height":397,
"encoding":{
 "x":{"field":"T","type":"quantitative","scale":{"type":"log","domain":[1,600],"nice":false},
  "axis":{"orient":"bottom","values":[1,2,3,4,5,6,7,8,9,10,20,30,40,50,60,70,80,90,100,200,300,400,500,600],"labelExpr":"datum.value == 1 || datum.value == 10 || datum.value == 100 ? datum.value + '' : ''","tickSize":{"condition":{"test":"datum.value == 1 || datum.value == 10 || datum.value == 100","value":8},"value":4},"labelFontSize":24,"labelPadding":4,"title":"Temperature T(K)","titleFontSize":23,"titlePadding":12}},
 "y":{"field":"v","type":"quantitative","scale":{"domain":[-2.5,30],"nice":false,"zero":false},
  "axis":{"orient":"left","values":[-2.5,0,2.5,5,7.5,10,12.5,15,17.5,20,22.5,25,27.5,30],"labelExpr":"datum.value % 5 == 0 ? datum.value + '' : ''","tickSize":{"condition":{"test":"datum.value % 5 == 0","value":8},"value":4},"labelFontSize":21,"labelPadding":6,"title":"(mFC - mZFC) / |mZFC| (%)","titleFontSize":22,"titlePadding":26}},
 "color":{"field":"s","type":"nominal","scale":{"domain":["1 T","0.05 T","0.02 T","0.01 T","0.005 T"],"range":["#000000","#ff0000","#00ee00","#0000ff","#ff00ff"]},"legend":null}
},
"layer":[
 {"data":{"values":[{"T":1,"v":0,"s":"1 T"},{"T":600,"v":0,"s":"1 T"}]},"mark":{"type":"line","strokeWidth":1.5}},
 {"data":{"name":"ae"},"mark":{"type":"line","strokeWidth":1}},
 {"data":{"name":"ae"},"mark":{"type":"point","shape":"M-1,-1L1,1M-1,1L1,-1","filled":false,"size":110,"strokeWidth":1,"opacity":1}},
 {"data":{"name":"ar"},"mark":{"type":"line","strokeWidth":1}},
 {"data":{"name":"ar"},"mark":{"type":"point","filled":true,"opacity":1},"encoding":{
   "shape":{"field":"s","type":"nominal","scale":{"domain":["1 T","0.05 T","0.02 T","0.01 T","0.005 T"],"range":["square","circle","triangle-up","triangle-down","diamond"]},"legend":null},
   "size":{"field":"s","type":"nominal","scale":{"domain":["1 T","0.05 T","0.02 T","0.01 T","0.005 T"],"range":[75,95,110,110,160]},"legend":null}}},
 {"data":{"values":[
   {"s":"1 T","v":26.3,"a1":28.9,"a2":47.5,"am":37,"e1":88.5,"e2":148,"em":114,"tl":206},
   {"s":"0.05 T","v":24.3,"a1":28.9,"a2":47.5,"am":37,"e1":88.5,"e2":148,"em":114,"tl":206},
   {"s":"0.02 T","v":22.35,"a1":28.9,"a2":47.5,"am":37,"e1":88.5,"e2":148,"em":114,"tl":206},
   {"s":"0.01 T","v":20.4,"a1":28.9,"a2":47.5,"am":37,"e1":88.5,"e2":148,"em":114,"tl":206},
   {"s":"0.005 T","v":18.4,"a1":28.9,"a2":47.5,"am":37,"e1":88.5,"e2":148,"em":114,"tl":206}]},
  "layer":[
   {"mark":{"type":"rule","strokeWidth":1},"encoding":{"x":{"field":"a1"},"x2":{"field":"a2"}}},
   {"mark":{"type":"rule","strokeWidth":1},"encoding":{"x":{"field":"e1"},"x2":{"field":"e2"}}},
   {"mark":{"type":"point","filled":true,"opacity":1},"encoding":{"x":{"field":"am"},
     "shape":{"field":"s","type":"nominal","scale":{"domain":["1 T","0.05 T","0.02 T","0.01 T","0.005 T"],"range":["square","circle","triangle-up","triangle-down","diamond"]},"legend":null},
     "size":{"field":"s","type":"nominal","scale":{"domain":["1 T","0.05 T","0.02 T","0.01 T","0.005 T"],"range":[75,95,110,110,160]},"legend":null}}},
   {"mark":{"type":"point","shape":"M-1,-1L1,1M-1,1L1,-1","filled":false,"size":110,"strokeWidth":1,"opacity":1},"encoding":{"x":{"field":"em"}}},
   {"mark":{"type":"text","align":"left","baseline":"middle","fontSize":20},"encoding":{"x":{"field":"tl"},"text":{"field":"s"},"color":{"value":"black"}}}
  ]},
 {"data":{"values":[{"T":39.8,"v":28.3,"t":"As received"},{"T":184,"v":28.3,"t":"After etching"}]},"mark":{"type":"text","align":"center","baseline":"middle","fontSize":20},"encoding":{"text":{"field":"t"},"color":{"value":"black"}}},
 {"data":{"values":[{"T":10,"v":27.8,"t":"(b)"}]},"mark":{"type":"text","align":"center","baseline":"middle","fontSize":25},"encoding":{"text":{"field":"t"},"color":{"value":"black"}}}
]
}
]
}
